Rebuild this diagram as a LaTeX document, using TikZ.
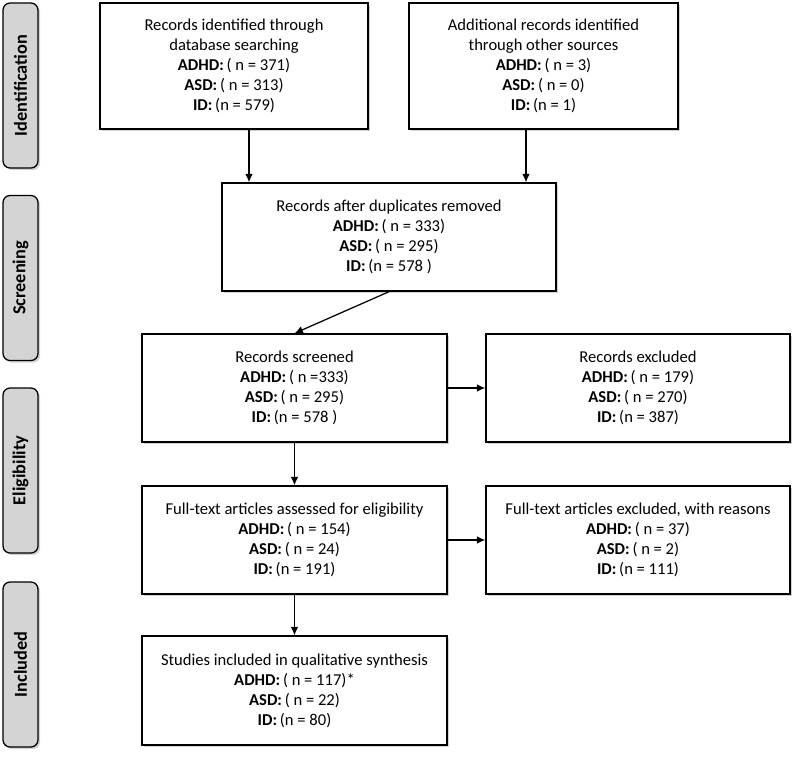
\documentclass[tikz,border=0pt]{standalone}
\usepackage{fontspec}
\setmainfont{Carlito}
\usepackage{xcolor}
\usetikzlibrary{arrows.meta,shadows}
\definecolor{phasegray}{HTML}{D4D4D4}

\tikzset{
  recbox/.style={draw, line width=1pt, fill=white, align=center, inner sep=0pt,
    minimum width=7.625cm, minimum height=2.7cm,
    font=\fontsize{11.8}{14.2}\selectfont,
    drop shadow={shadow xshift=1.5pt, shadow yshift=-1.5pt, opacity=0.35, fill=gray}},
  phase/.style={draw, line width=0.9pt, rounded corners=5pt, fill=phasegray, rotate=90,
    minimum width=4.125cm, minimum height=0.875cm, inner sep=0pt,
    font=\fontsize{13}{15}\selectfont\bfseries,
    drop shadow={shadow xshift=1.5pt, shadow yshift=-1.5pt, opacity=0.35, fill=gray}},
  arr/.style={-{Latex[length=6pt,width=5.5pt]}, line width=0.9pt}
}

\begin{document}
\begin{tikzpicture}
\useasboundingbox (0,0) rectangle (20,-18.925);
% phases on the left
\node[phase] (pid) at (0.5125,-2.1375) {Identification};
\node[phase] (pscr) at (0.5125,-6.95) {Screening};
\node[phase] (pelig) at (0.5125,-11.7625) {Eligibility};
\node[phase] (pincl) at (0.5125,-16.6125) {Included};
% boxes
\node[recbox, minimum width=6.7cm, minimum height=3.15cm] (ident) at (5.85,-1.65)
  {Records identified through\\database searching\\\textbf{ADHD:}\,( n = 371)\\\textbf{ASD:}\,( n = 313)\\\textbf{ID:}\,(n = 579)};
\node[recbox, minimum width=6.725cm, minimum height=3.15cm] (other) at (13.5875,-1.65)
  {Additional records identified\\through other sources\\\textbf{ADHD:}\,( n = 3)\\\textbf{ASD:}\,( n = 0)\\\textbf{ID:}\,(n = 1)};
\node[recbox, minimum width=8.35cm] (dupl) at (9.725,-5.925)
  {Records after duplicates removed\\\textbf{ADHD:}\,( n = 333)\\\textbf{ASD:}\,( n = 295)\\\textbf{ID:}\,(n = 578 )};
\node[recbox] (scr) at (7.3625,-9.7)
  {Records screened\\\textbf{ADHD:}\,( n =333)\\\textbf{ASD:}\,( n = 295)\\\textbf{ID:}\,(n = 578 )};
\node[recbox, minimum width=7.6cm] (excl) at (15.95,-9.7)
  {Records excluded\\\textbf{ADHD:}\,( n = 179)\\\textbf{ASD:}\,( n = 270)\\\textbf{ID:}\,(n = 387)};
\node[recbox] (full) at (7.3625,-13.5)
  {Full-text articles assessed for eligibility\\\textbf{ADHD:}\,( n = 154)\\\textbf{ASD:}\,( n = 24)\\\textbf{ID:}\,(n = 191)};
\node[recbox, minimum width=7.6cm] (fexcl) at (15.95,-13.5)
  {Full-text articles excluded, with reasons\\\textbf{ADHD:}\,( n = 37)\\\textbf{ASD:}\,( n = 2)\\\textbf{ID:}\,(n = 111)};
\node[recbox, minimum height=2.725cm] (incl) at (7.3625,-17.2625)
  {Studies included in qualitative synthesis\\\textbf{ADHD:}\,( n = 117)*\\\textbf{ASD:}\,( n = 22)\\\textbf{ID:}\,(n = 80)};
% arrows
\coordinate (a1) at (6.225,0);
\coordinate (a2) at (13.15,0);
\draw[arr] (ident.south -| a1) -- (dupl.north -| a1);
\draw[arr] (other.south -| a2) -- (dupl.north -| a2);
\draw[arr] (dupl.south) -- (scr.north);
\draw[arr] (scr) -- (excl);
\draw[arr] (scr) -- (full);
\draw[arr] (full) -- (fexcl);
\draw[arr] (full) -- (incl);
\end{tikzpicture}
\end{document}
